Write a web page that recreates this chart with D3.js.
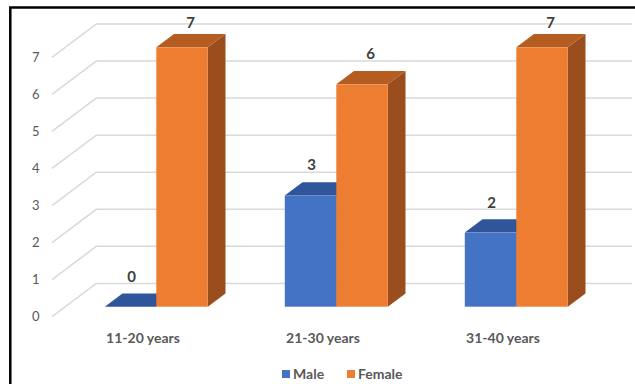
<!DOCTYPE html>
<html lang="en">
<head>
<meta charset="UTF-8">
<title>Age groups by gender</title>
<script src="https://d3js.org/d3.v7.min.js"></script>
<style>
  body { margin: 0; background: #fff; }
  text { font-family: Lato, "Open Sans", sans-serif; }
</style>
</head>
<body>
<div id="chart"></div>

<script>
// Data
const categories = ["11-20 years", "21-30 years", "31-40 years"];
const seriesNames = ["Male", "Female"];
const male = [0, 3, 2];
const female = [7, 6, 7];
const yTicks = [0, 1, 2, 3, 4, 5, 6, 7];

const W = 635, H = 384;
const colors = {
  Male:   { front: "#4472C4", top: "#30559A", side: "#2B4C8A" },
  Female: { front: "#ED7D31", top: "#B55C20", side: "#9A4E1D" }
};

// pseudo 3D depth: dz pixels up, 1.33*dz pixels right
const slope = 1.33;
const barFrontZ = 10, barBackZ = 23.3, wallZ = 33.3;
const off = z => [z * slope, -z];

const svg = d3.select("#chart").append("svg")
  .attr("width", W)
  .attr("height", H);

// floor front plane scales
const x0 = d3.scaleBand().domain(categories).range([53, 593]);
const x1 = d3.scaleBand().domain(seriesNames).range([-51.5, 51.5]);
const y = d3.scaleLinear().domain([0, 7]).range([316.7, 57.3]);

// wall gridlines and diagonals to the axis
const grid = svg.append("g");
yTicks.forEach(t => {
  const [wx, wy] = off(wallZ);
  grid.append("path")
    .attr("d", `M52,${y(t)} L${52 + wx},${y(t) + wy} L632,${y(t) + wy}`)
    .attr("fill", "none")
    .attr("stroke", "#D9D9D9")
    .attr("stroke-width", 1.5);
  grid.append("text")
    .attr("x", 39.5)
    .attr("y", y(t))
    .attr("dy", "0.35em")
    .attr("text-anchor", "end")
    .attr("fill", "#595959")
    .style("font-size", "13px")
    .text(t);
});

// bars
const rows = [];
categories.forEach((c, i) => {
  rows.push({ cat: c, s: "Male", v: male[i] });
  rows.push({ cat: c, s: "Female", v: female[i] });
});

const [fx, fy] = off(barFrontZ);
const [bx, by] = off(barBackZ);
const bars = svg.append("g");
rows.forEach(d => {
  const c = x0(d.cat) + x0.bandwidth() / 2;
  const xl = c + x1(d.s) + fx, xr = xl + x1.bandwidth();
  const yb = y(0) + fy, yt = y(d.v) + fy;
  const ddx = bx - fx, ddy = by - fy;
  const g = bars.append("g");
  g.append("path") // side
    .attr("d", `M${xr},${yt} L${xr + ddx},${yt + ddy} L${xr + ddx},${yb + ddy} L${xr},${yb} Z`)
    .attr("fill", colors[d.s].side);
  g.append("path") // top
    .attr("d", `M${xl},${yt} L${xl + ddx},${yt + ddy} L${xr + ddx},${yt + ddy} L${xr},${yt} Z`)
    .attr("fill", colors[d.s].top);
  g.append("rect") // front
    .attr("x", xl)
    .attr("y", yt)
    .attr("width", xr - xl)
    .attr("height", yb - yt)
    .attr("fill", colors[d.s].front);
  g.append("text")
    .attr("x", d.s === "Male" ? (xl + xr) / 2 + 1 : (xl + xr) / 2 + 8.5)
    .attr("y", Math.max(23, yt + ddy - 17))
    .attr("dy", "0.35em")
    .attr("text-anchor", "middle")
    .attr("fill", "#404040")
    .style("font-size", "15px")
    .style("font-weight", "bold")
    .text(d.v);
});

// category labels
svg.append("g").selectAll("text")
  .data(categories)
  .join("text")
  .attr("x", d => x0(d) + x0.bandwidth() / 2)
  .attr("y", 338)
  .attr("dy", "0.35em")
  .attr("text-anchor", "middle")
  .attr("fill", "#595959")
  .style("font-size", "14px")
  .style("font-weight", "bold")
  .text(d => d);

// legend
const legend = svg.append("g");
const legX = [282, 347];
seriesNames.forEach((s, i) => {
  legend.append("rect")
    .attr("x", legX[i])
    .attr("y", 370)
    .attr("width", 8)
    .attr("height", 8)
    .attr("fill", colors[s].front);
  legend.append("text")
    .attr("x", legX[i] + 11)
    .attr("y", 374)
    .attr("dy", "0.35em")
    .attr("fill", "#595959")
    .style("font-size", "14px")
    .style("font-weight", "bold")
    .text(s);
});

// frame (only top and left edges show)
svg.append("rect")
  .attr("x", 10.3)
  .attr("y", 7.5)
  .attr("width", 700)
  .attr("height", 500)
  .attr("fill", "none")
  .attr("stroke", "#000")
  .attr("stroke-width", 2.5);
</script>
</body>
</html>
